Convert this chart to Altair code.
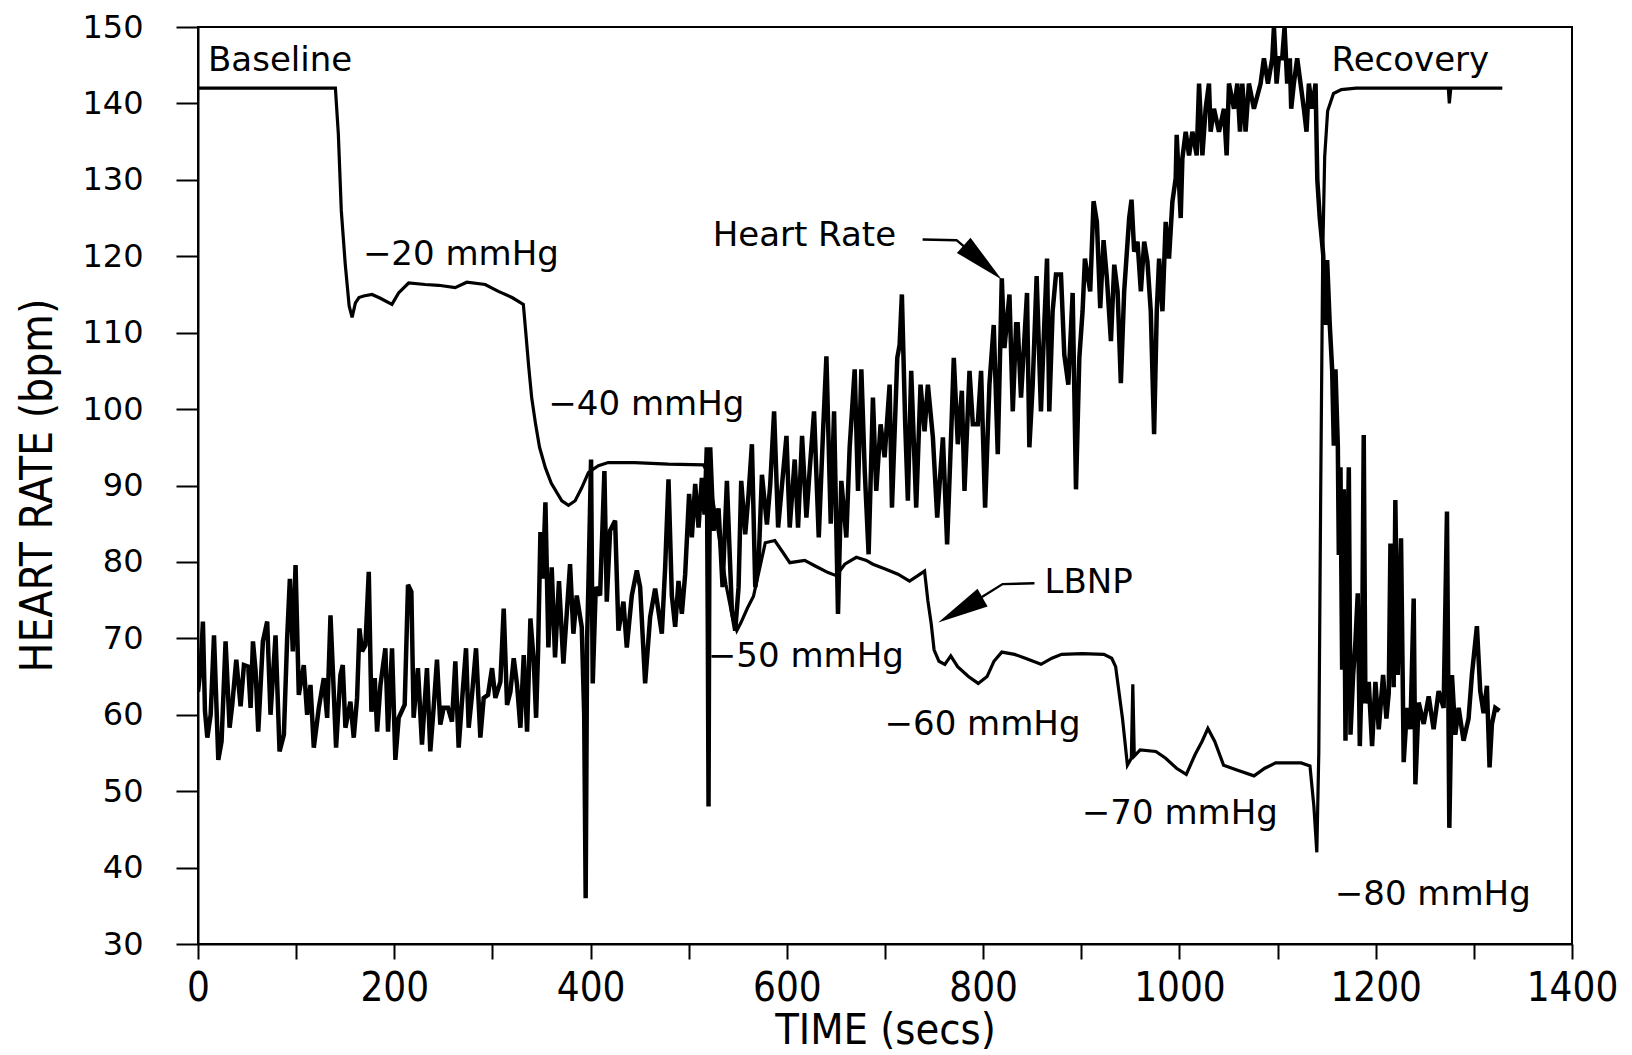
import altair as alt
import pandas as pd

# ---------------- data ----------------
hr_time = [0, 2.7, 5, 7.1, 9.5, 12.9, 16.3, 20.7, 24, 28.1, 32.2, 34.9, 39, 43.4, 46.8, 51.2, 53.6, 56, 58.7, 61.4,
           66.1, 70.5, 73.9, 79, 83.1, 87.5, 90.9, 93.6, 96.6, 99.4, 102.7, 107.8, 111.2, 114.6, 118, 123.1, 128.2,
           131.6, 135, 137.3, 140.7, 145.1, 147.5, 150.2, 155.3, 158.7, 162.1, 164.5, 167.2, 170.6, 174, 176.7,
           180.1, 182.5, 185.9, 190.9, 193.6, 197.7, 201.1, 204.5, 210.6, 214, 217.4, 219.7, 224.1, 228.2, 233.3,
           236.7, 240.1, 243.5, 246.9, 250.3, 254.7, 258.8, 262.2, 265.6, 269.7, 273.1, 275.8, 279.2, 283.3, 287.7,
           291.1, 295.5, 299.6, 303, 308.1, 311.5, 314.9, 318.3, 321.7, 325.1, 328.5, 331.9, 335.3, 338.7, 342.1,
           344.5, 346.5, 348.9, 351.3, 354,
           357, 360.4, 363.8, 367.8, 372.3, 379.1, 382.5, 385.9, 391, 393.5, 395, 396.5, 397.8, 400.5, 402.2, 405.3,
           409.7, 414.1, 416.5, 419.9, 425, 428.4, 433.5, 436.9, 442, 447.1, 450.5, 455.6, 460.7, 465.8, 472.6, 476,
           479.4, 482.8, 486.2, 489.6, 493, 496.4, 500.4, 503.2, 506.6, 510, 513.4, 516.1, 518.4, 519.5, 520.2, 521,
           521.9, 525.3, 530.4, 534.5, 538.9, 544, 547.4, 550.8, 553.5, 557.6, 561, 564.4, 567.8, 571.2, 574.6,
           579.7, 583,
           587.0, 591.1, 599.6, 602.9, 608.0, 611.4, 615.5, 619.9, 623.3, 627.7, 632.5, 636.9, 640.3, 644.7, 648.1,
           652.1, 655.5, 660.6, 664.0, 669.1, 672.5, 675.9, 679.3, 683.3, 687.7, 691.1, 695.5, 699.6, 704.7, 707.1,
           712.5, 714.9, 717.2, 720.6, 723.3, 726.7, 731.8, 736.2, 740.3, 743.7, 748.8, 753.2, 759.0, 763.3, 767.4,
           770.1, 774.2, 778.3, 781.0, 786.1, 789.5, 794.5, 797.9, 802.0, 806.4, 810.8, 814.9, 819.0, 821.7, 826.8,
           830.2, 833.6,
           835.2, 838.6, 844.7, 847.1, 850.5, 854.5, 858.9, 862.3, 865.1, 867.4, 870.8, 874.2, 879.3, 882.7, 886.8,
           891.2, 894.6, 898, 901.3, 903.7, 909.1, 912.5, 915.9, 919.3, 922.7, 926.1, 930.2, 933.6, 937, 940.3,
           943.7, 948.8, 951.2, 953.9, 957.3, 960.7, 964.1,
           967.4, 970.8, 974.2, 976.9, 979.3, 982.7, 986, 989.4, 992.8, 996.2, 997.2, 1001.3, 1003, 1006.4, 1009.8,
           1013.2, 1017.6, 1020, 1023.4, 1026.7, 1030.1, 1031.8, 1035.2, 1040.3, 1045.4, 1048.1, 1050.5, 1055.6,
           1059, 1061.7, 1064.1, 1067.4, 1070.8, 1075.9, 1082.7, 1086.1, 1090.2, 1094.6, 1096.3, 1099, 1101.3,
           1104.7, 1107.1, 1109.8, 1112.5, 1113.9, 1116.6, 1120, 1123.4, 1126.8, 1129.5, 1131.9, 1135.3, 1138.7,
           1140.5, 1143, 1146.5, 1148.8, 1150.5, 1153.2, 1155.6, 1157.3, 1159, 1161.4, 1162.4, 1164.1, 1165.8,
           1167.5, 1169.2, 1170.9, 1172.6, 1174.3, 1177, 1179.3, 1181.7, 1183.8, 1186.1, 1187.8, 1189.5, 1192.9,
           1196.3, 1199.7, 1203.1, 1207.5, 1210.9, 1213.3, 1215, 1218.3, 1220, 1222.4, 1225.8, 1228.5, 1231.9,
           1235.3, 1238.7, 1240.4, 1243.8, 1248.9, 1254, 1259, 1264.1, 1269.2, 1272.6, 1275, 1277.7, 1281.1,
           1284.5, 1289.5, 1294.6, 1298, 1303.1, 1306.5, 1309.9, 1313.3, 1316, 1318.4, 1321.8, 1326]

hr_bpm = [63, 66.1, 72.2, 60.5, 57, 60, 70.4, 54.1, 56.5, 69.6, 58.3, 61.3, 67.2, 61.1, 66.5, 66.3, 60.9, 69.6, 65.7,
          57.8, 69.6, 72.2, 60, 70.4, 55.2, 57.4, 70.2, 77.8, 68.3, 79.6, 62.6, 66.5, 60, 63.9, 55.7, 60.9, 64.8,
          59.6, 73, 66.1, 55.7, 65.2, 66.5, 58.3, 61.7, 57, 62.2, 71.3, 68.3, 69.1, 78.7, 60.4, 64.8, 57.8, 63.9,
          68.7, 57.8, 68.7, 54.1, 59.6, 61.3, 77, 76.1, 59.6, 66.1, 56.1, 66.1, 55.2, 60.9, 67.2, 58.7, 60.9, 60.9,
          59.1, 67, 55.7, 63, 68.7, 58.3, 62.6, 68.7, 57, 62.2, 62.6, 66.1, 62.2, 64.3, 73.9, 61.3, 63, 67.4, 63.9,
          58.3, 67.8, 57.8, 72.6, 67, 59.6, 68.3, 83.9, 77.8, 87.8,
          68.8, 79.3, 67.5, 77.5, 66.7, 79.7, 70.6, 75.6, 71.5, 60, 36, 70, 77, 93.4, 64.1, 76.7, 75.6, 91.9, 74.8,
          84.1, 85.4, 71, 74.8, 68.8, 75.6, 78.9, 76.7, 64.1, 72.8, 76.5, 70.6, 79.3, 90.8, 75.6, 71.5, 77.5, 73.2,
          78.4, 88.9, 83.2, 90.2, 84.5, 91, 86.2, 95, 70, 48, 80, 95, 84.1, 87, 76.7, 90.6, 73.6, 71, 76.7, 90.6,
          83.6, 88.9, 95.4, 76.7, 80, 91.4, 84.9, 90,
          99.7, 84.5, 96.5, 84.5, 93.4, 84.5, 96.5, 85.8, 92.1, 99.7, 83.2, 97.1, 106.9, 85, 99.7, 73.2, 90.6, 83.2,
          95, 105.2, 89.3, 105.2, 92.1, 81, 101.5, 89.3, 98, 93.7, 103.2, 87.1, 106.7, 108.4, 115, 98, 88, 105, 87.1,
          103.2, 97.1, 103.2, 96.3, 85.8, 96.3, 82.3, 96.7, 106.7, 95.4, 102.4, 89.3, 105, 98, 98, 105, 87.1, 103.2,
          111, 94.1, 117.1, 108, 115, 99.7, 111.1,
          111.1, 101.5, 115.2, 95, 103.2, 117.4, 99.7, 111.1, 119.7, 99.7, 112.8, 117.6, 117.6, 107.1, 103.2, 115.2,
          89.5, 106.7, 112.8, 119.7, 115.4, 127.2, 124.5, 113.2, 122.1, 117.1, 108.9, 118.9, 115.4, 103.4, 115.4,
          125, 127.4, 120.6, 121.9, 115.4, 121.9,
          119.3, 112.8, 96.7, 112.8, 119.7, 112.8, 124.5, 119.7, 127.1, 130.2, 135.9, 125, 132.8, 136.3, 133.2,
          136.3, 133.2, 142.6, 133.2, 139.3, 142.6, 136.3, 139.3, 136.3, 139.3, 133.2, 142.6, 139.3, 142.6, 136.3,
          142.6, 136.3, 142.6, 139.3, 142.6, 145.9, 142.6, 145.9, 150, 142.6, 145.9, 145.9, 150, 142.6, 145.9,
          139.3, 142.6, 145.9, 142.6, 139.3, 136.3, 142.6, 139.3, 142.6,
          130, 125, 120.2, 111, 119.5, 111, 105.2, 95.2, 105.2, 95.2, 80.9, 92.4, 65.9, 89.5, 56.6, 78.1, 92.4, 57.4,
          65.2, 69.5, 75.9, 55.9, 67.4, 96.6, 61.5, 64.3, 55.9, 64.3, 58.1, 65.2, 59.5, 62.9, 82.4, 63.6, 88.1,
          65.2, 83.1, 53.8, 60.9, 58.1, 75.2, 50.9, 61.6, 58.8, 62.4, 58.1, 63.1, 60.9, 86.6, 45.2, 65.2, 57.4,
          60.9, 56.6, 59.5, 65.2, 71.6, 63.1, 60.2, 63.8, 53.1, 58.8, 60.9, 60.5]

lbnp_time = [0, 140, 143, 146, 150, 154, 157, 160.4, 164, 168.8, 177.3, 185.8, 197.6, 204.4, 214.6, 231.5, 245.1,
             262, 273.9, 292.6, 306.1, 320, 331.5, 334, 337, 340, 344, 348, 354, 360, 370.7, 377.5, 384.3, 391,
             397.8, 408, 418, 445, 479, 515, 518, 522, 530, 538, 545, 549, 553, 560, 566, 572, 578, 587.7, 596.2,
             603, 618.2, 628.4, 642, 650.4, 659, 670.8, 681, 687.7, 699.6, 713.2, 725, 733.5, 740.3, 743.7, 747.1,
             750, 755, 761, 767, 774, 785, 795, 804, 811, 819, 832, 843, 859, 870, 880, 901, 923, 931, 935, 942,
             947, 951, 952.5, 954, 960, 976, 986, 997, 1007, 1016, 1023, 1029, 1036, 1045, 1060, 1076, 1087, 1098,
             1124, 1133, 1137, 1140, 1142, 1144, 1146, 1148, 1151, 1157, 1165, 1180, 1274, 1275, 1276.5, 1329]
lbnp_level = [142, 142, 136, 126, 119, 113.5, 112, 113.9, 114.6, 114.8, 115, 114.5, 113.7, 115.2, 116.5, 116.3,
              116.2, 115.9, 116.6, 116.3, 115.4, 114.6, 113.7, 110, 105.5, 101.5, 98, 95, 92.3, 90.3, 88, 87.4, 88,
              89.7, 91.7, 92.6, 93, 93, 92.8, 92.7, 92, 90, 84, 77, 72.5, 71, 72, 74, 75.5, 79, 82.5, 82.8, 81.2,
              79.9, 80.2, 79.5, 78.6, 78.2, 79.7, 80.6, 80.2, 79.7, 79.1, 78.4, 77.5, 78.2, 78.8, 74.9, 71.9, 68.5,
              67, 66.6, 67.7, 66.3, 65, 64.1, 65, 67, 68.2, 67.9, 67.4, 66.6, 67.4, 67.9, 68, 67.9, 67.4, 66.3, 59.5,
              53.4, 54.3, 64, 54.6, 55.4, 55.2, 54.3, 53, 52.2, 54.8, 56.5, 58.2, 56.5, 53.4, 52.7, 52, 53, 53.7,
              53.7, 53.3, 48, 42, 55, 90, 120, 133, 139, 141.3, 141.8, 142, 142, 140, 142, 142]

label_text = ["Baseline", "\u221220 mmHg", "\u221240 mmHg", "\u221250 mmHg", "\u221260 mmHg",
              "\u221270 mmHg", "\u221280 mmHg", "Recovery", "Heart Rate", "LBNP"]
label_time = [10.2, 168, 357, 519.5, 699.5, 900.6, 1158.3, 1155, 524.4, 862.5]
label_bpm = [145.5, 120.2, 100.5, 67.5, 58.6, 47, 36.4, 145.5, 122.6, 77.2]

arrow_name = ["Heart Rate", "LBNP"]
arrow_time = [799.5, 776.8]
arrow_bpm = [119.2, 73.7]
arrow_angle = [41.9, 150.5]

hr_leader_time = [738.3, 772.9, 783.1]
hr_leader_bpm = [122.2, 122.1, 121.0]
lbnp_leader_time = [796.3, 819.8, 852.3]
lbnp_leader_bpm = [75.2, 77.1, 77.2]

x_ticks = list(range(0, 1401, 100))
y_ticks = list(range(30, 151, 10))

# ---------------- tables ----------------
hr_df = pd.DataFrame({"time": hr_time, "bpm": hr_bpm})
lbnp_df = pd.DataFrame({"time": lbnp_time, "bpm": lbnp_level})
lab_df = pd.DataFrame({"time": label_time, "bpm": label_bpm, "text": label_text})
arr_df = pd.DataFrame({"time": arrow_time, "bpm": arrow_bpm, "angle": arrow_angle, "name": arrow_name})
lead_df = pd.DataFrame({
    "time": hr_leader_time + lbnp_leader_time,
    "bpm": hr_leader_bpm + lbnp_leader_bpm,
    "grp": ["hr"] * 3 + ["lbnp"] * 3,
})

NARROW = "Liberation Sans Narrow, DejaVu Sans Condensed, Roboto Condensed, Liberation Sans"

x_axis = alt.Axis(values=x_ticks, format="d",
                  labelExpr="datum.value % 200 == 0 ? datum.label : ''",
                  tickSize=15, labelPadding=29, labelBaseline="middle",
                  labelFont=NARROW, labelFontSize=40, labelFlush=False, labelOverlap=False,
                  title="TIME (secs)", titleFont=NARROW, titleFontSize=43,
                  titleY=86, titleBaseline="middle")
y_axis = alt.Axis(values=y_ticks, format="d", tickSize=22, labelPadding=33,
                  labelFont="DejaVu Sans", labelFontSize=32, labelOverlap=False,
                  title="HEART RATE (bpm)", titleFont=NARROW, titleFontSize=44,
                  titleX=-160, titleY=458, titleAngle=270, titleAlign="center",
                  titleBaseline="middle")

def X():
    return alt.X("time:Q", scale=alt.Scale(domain=[0, 1400], nice=False, zero=False), axis=x_axis)

def Y():
    return alt.Y("bpm:Q", scale=alt.Scale(domain=[30, 150], nice=False, zero=False), axis=y_axis)

hr_line = alt.Chart(hr_df).mark_line(color="black", strokeWidth=4.5, strokeJoin="miter",
                                     strokeMiterLimit=3, clip=True).encode(x=X(), y=Y())
lbnp_line = alt.Chart(lbnp_df).mark_line(color="black", strokeWidth=3.2, clip=True).encode(x=X(), y=Y())
leaders = alt.Chart(lead_df).mark_line(color="black", strokeWidth=2.4).encode(x=X(), y=Y(), detail="grp:N")
heads = alt.Chart(arr_df).mark_point(
    shape="M -1 -0.4 L 1 0 L -1 0.4 Z", filled=True, color="black", opacity=1, size=2600
).encode(x=X(), y=Y(), angle=alt.Angle("angle:Q", scale=None))
labels = alt.Chart(lab_df).mark_text(
    align="left", baseline="middle", font="DejaVu Sans", fontSize=34, color="black"
).encode(x=X(), y=Y(), text="text:N")

chart = alt.layer(hr_line, lbnp_line, leaders, heads, labels).properties(
    width=1374, height=917,
    padding={"left": 190, "top": 19, "right": 50, "bottom": 109},
    autosize=alt.AutoSizeParams(type="none"),
).configure_view(stroke="black", strokeWidth=2).configure_axis(
    grid=False, domainColor="black", domainWidth=2, tickColor="black", tickWidth=2,
    labelColor="black", titleColor="black", titleFontWeight="normal"
)

chart.save("out.html", embed_options={"renderer": "svg", "actions": False})
